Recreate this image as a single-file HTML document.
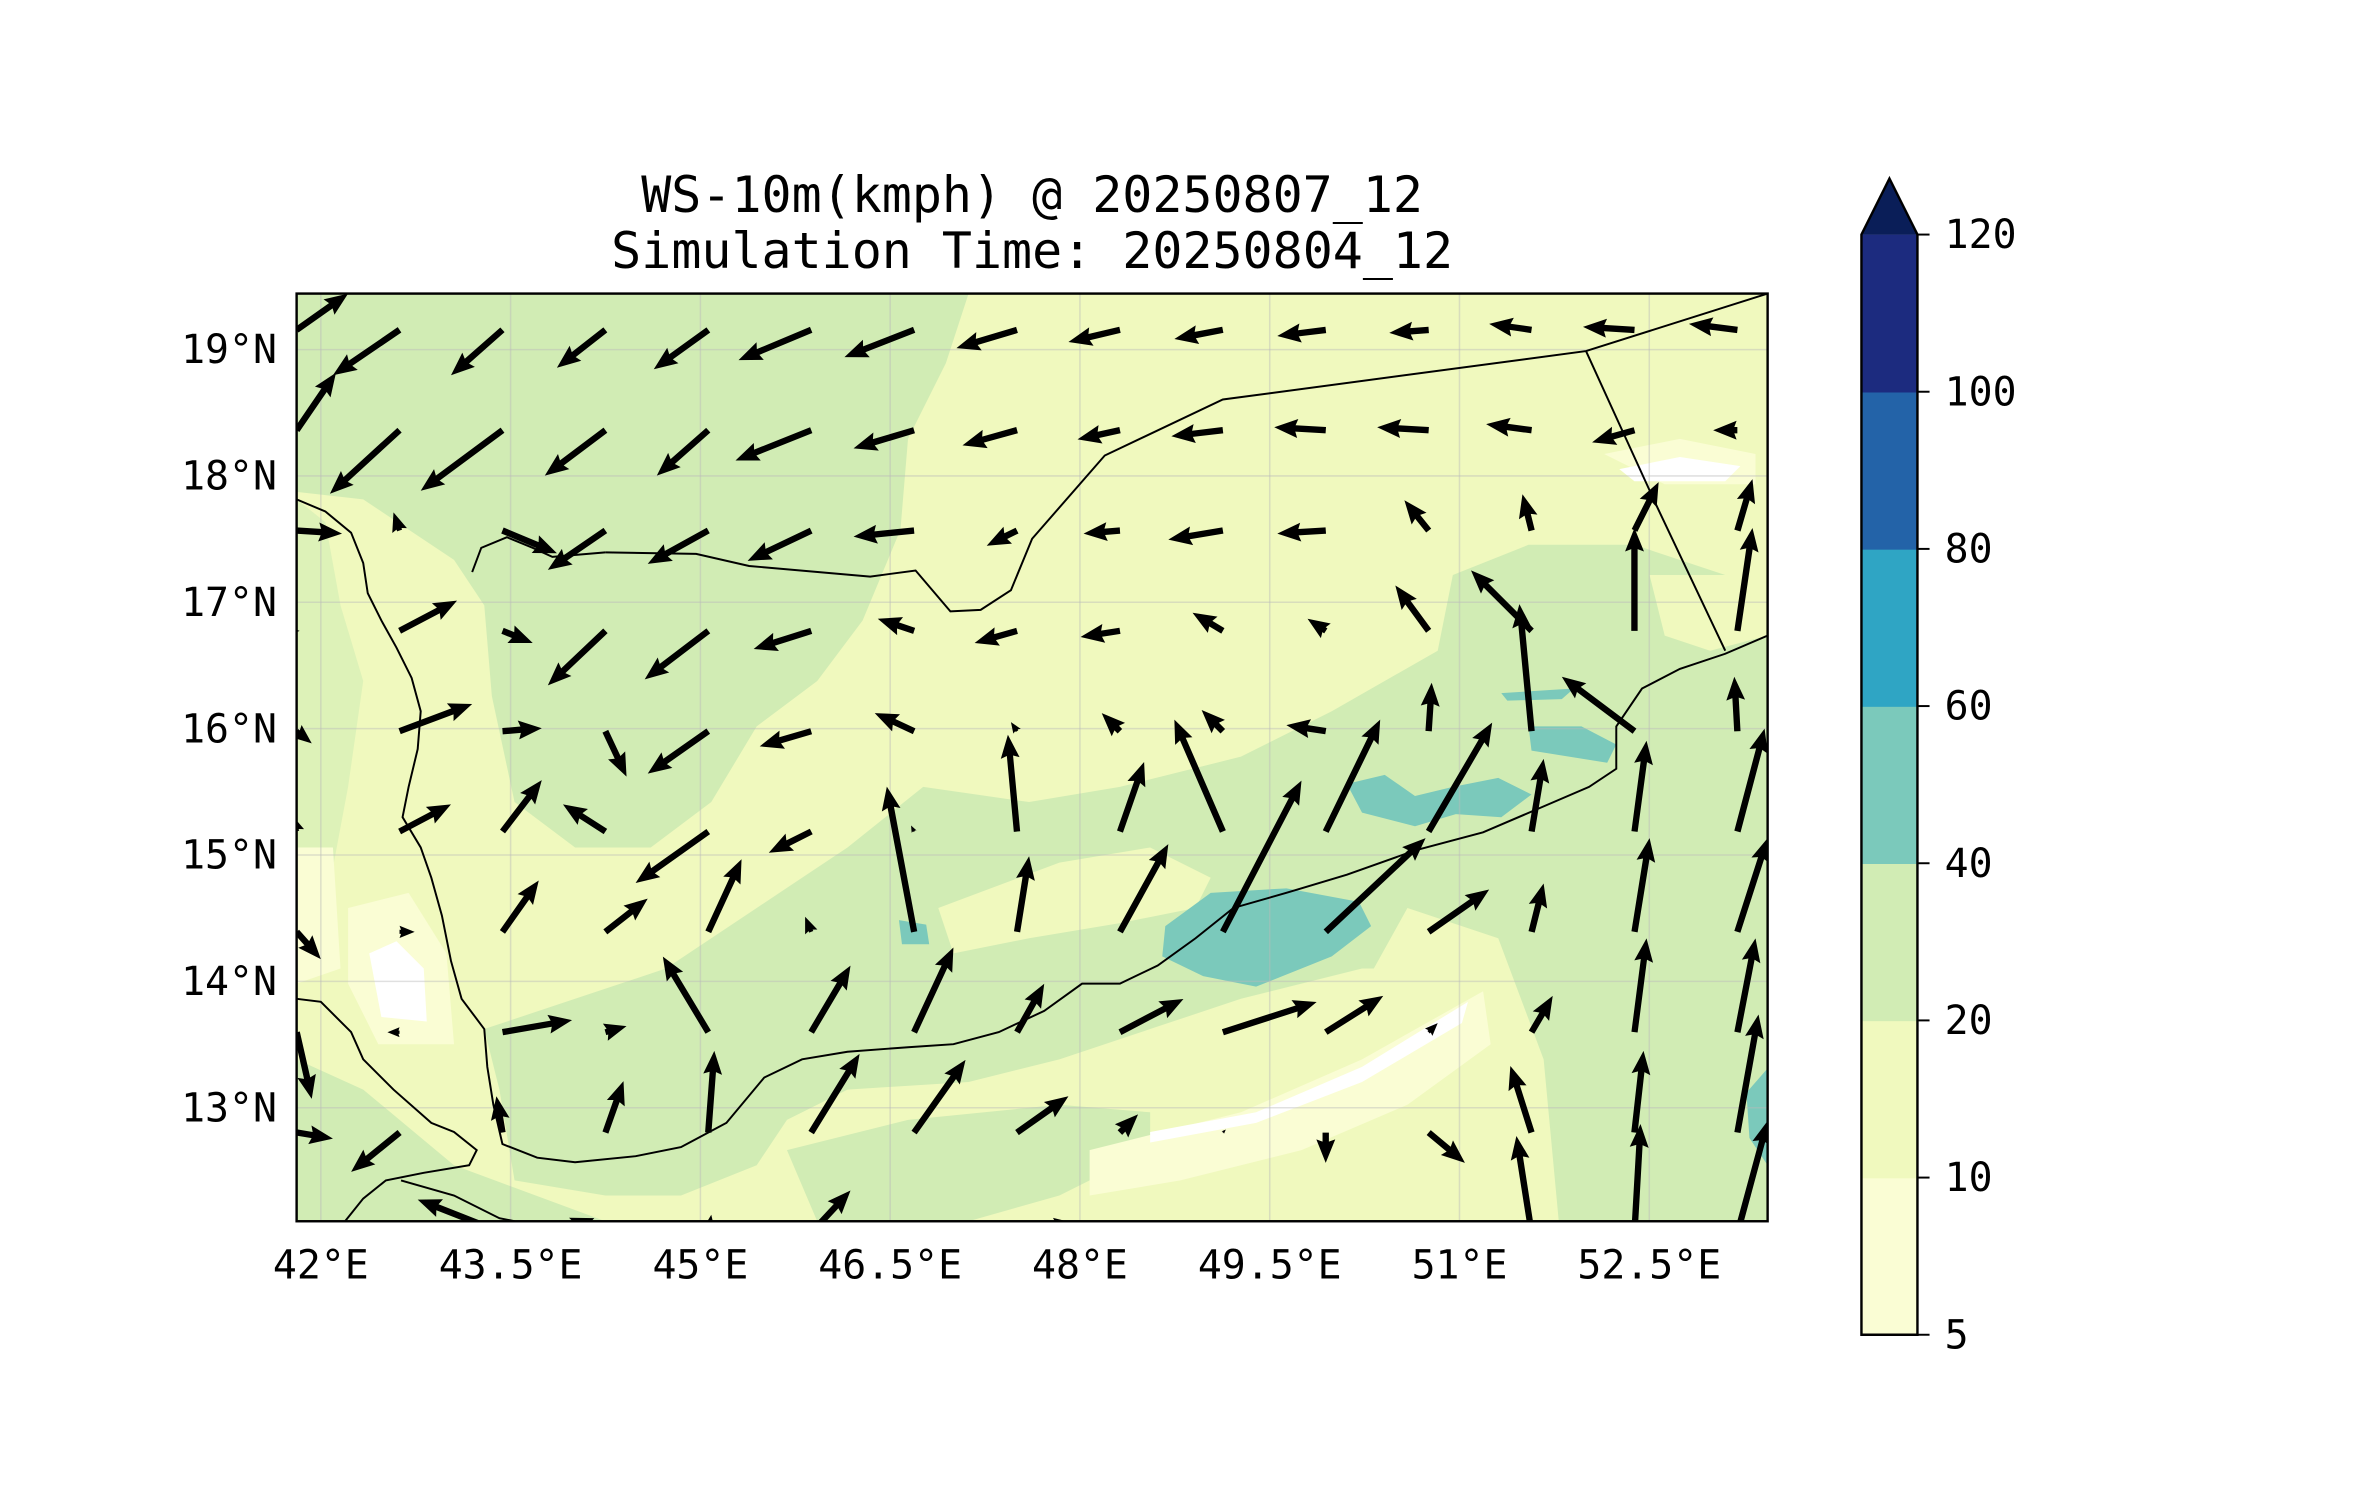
<!DOCTYPE html>
<html><head><meta charset="utf-8"><style>
html,body{margin:0;padding:0;background:#fff;}
svg{display:block;}
text{font-family:"DejaVu Sans Mono","Liberation Mono",monospace;fill:#000;}
</style></head><body>
<svg id="chart" width="2371" height="1500" viewBox="0 0 1566.7 991.2" preserveAspectRatio="none" xmlns="http://www.w3.org/2000/svg">
<defs><clipPath id="mapclip"><rect x="196" y="194" width="972" height="613"/></clipPath></defs>
<rect width="1600" height="1000" fill="#fff"/>
<text x="682" y="140" font-size="33" text-anchor="middle">WS-10m(kmph) @ 20250807_12</text>
<text x="682" y="177" font-size="33" text-anchor="middle">Simulation Time: 20250804_12</text>
<g id="map" clip-path="url(#mapclip)">
 <rect x="196" y="194" width="972" height="613" fill="#f0f9be"/>
 <g fill="#d1ecb4">
  <path d="M196,194 L640,194 L625,240 L600,290 L595,350 L570,410 L540,450 L500,480 L470,530 L430,560 L380,560 L340,530 L325,460 L320,400 L300,370 L270,350 L240,330 L196,325 Z"/>
  <path d="M196,330 L215,345 L225,400 L240,450 L230,520 L215,600 L196,610 Z" opacity="0.6"/>
  <path d="M560,560 L610,520 L680,530 L740,520 L820,500 L880,470 L950,430 L960,380 L1010,360 L1080,360 L1140,380 L1168,400 L1168,807 L1000,807 L1000,760 L980,680 L960,640 L900,640 L820,660 L760,680 L700,700 L640,715 L560,720 L520,740 L500,770 L450,790 L400,790 L340,780 L330,720 L320,680 L380,660 L440,640 L500,600 Z"/>
  <path d="M196,700 L240,720 L300,770 L400,807 L196,807 Z"/>
  <path d="M520,760 L600,740 L700,730 L760,735 L760,760 L700,790 L640,807 L540,807 Z"/>
 </g>
 <g fill="#f0f9be">
  <path d="M620,600 L700,570 L760,560 L800,580 L790,600 L740,610 L680,620 L630,630 Z"/>
  <path d="M930,600 L990,620 L1020,700 L1030,807 L940,807 L930,740 L900,700 L880,690 Z"/>
  <path d="M1090,380 L1168,380 L1168,420 L1130,430 L1100,420 Z"/>
 </g>
 <g fill="#fafdd4">
  <path d="M230,600 L270,590 L295,630 L300,690 L250,690 L230,650 Z"/>
  <path d="M720,760 L820,735 L900,700 L980,655 L985,690 L930,730 L860,760 L780,780 L720,790 Z"/>
  <path d="M1060,300 L1110,290 L1160,300 L1160,320 L1100,320 Z"/>
  <path d="M196,560 L220,560 L225,640 L196,650 Z"/>
 </g>
 <g fill="#ffffff">
  <path d="M244,630 L262,622 L280,640 L282,675 L252,672 Z"/>
  <path d="M760,748 L830,735 L900,705 L970,662 L966,676 L900,715 L830,742 L760,755 Z"/>
  <path d="M1070,310 L1110,302 L1150,308 L1140,318 L1080,318 Z"/>
 </g>
 <g fill="#7bc9bb">
  <path d="M770,612 L800,590 L850,587 L898,596 L906,612 L880,632 L830,652 L795,645 L768,632 Z"/>
  <path d="M890,518 L915,512 L935,526 L960,520 L990,514 L1012,525 L992,540 L962,538 L935,546 L900,537 Z"/>
  <path d="M1010,480 L1045,480 L1068,492 L1062,504 L1012,496 Z"/>
  <path d="M594,608 L612,611 L614,624 L596,624 Z"/>
  <path d="M992,458 L1040,455 L1032,462 L996,463 Z"/>
  <path d="M1154,722 L1168,706 L1168,770 L1156,752 Z"/>
 </g>
 <g id="grid" stroke="#bbb" stroke-opacity="0.45" stroke-width="1"></g>
 <g fill="none" stroke="#000" stroke-width="1.3">
  <path d="M196,330 L215,338 L232,352 L240,372 L243,392 L252,410 L262,428 L272,448 L278,470 L276,495 L270,520 L266,540 L278,560 L285,580 L292,605 L298,635 L305,660 L320,680 L322,705 L326,730 L332,756 L355,765 L380,768 L420,764 L450,758 L480,742 L505,712 L530,700 L560,695 L600,692 L630,690 L660,682 L690,668 L715,650 L740,650 L765,638 L790,620 L815,600 L850,590 L890,578 L935,562 L980,550 L1015,535 L1050,520 L1068,508 L1068,480 L1085,455 L1110,442 L1140,432 L1168,420"/>
  <path d="M312,378 L318,362 L335,355 L352,362 L365,368 L400,365"/>
  <path d="M196,660 L212,662 L232,682 L240,700 L260,720 L285,742 L300,748 L315,760 L310,770 L280,775 L255,780 L240,792 L228,807"/>
  <path d="M400,365 L460,366 L495,374 L575,381 L605,377 L628,404 L648,403 L668,390 L682,356 L730,301 L808,264 L1048,232 L1168,194"/>
  <path d="M1048,232 L1095,335 L1140,430"/>
  <path d="M265,780 L300,790 L330,805 L340,807"/>
 </g>
 <g id="arrows" fill="#000"></g>
</g>
<rect x="196" y="194" width="972" height="613" fill="none" stroke="#000" stroke-width="1.6"/>
<g id="ticks" font-size="26.3"></g>
<g id="cbar"></g>
</svg>
<script>
// Wind vector components (east u, north v), in quiver display units
const uWind = [
 [34,-44,-34,-32,-36,-48,-46,-40,-34,-32,-32,-26,-28,-34,-32],
 [26,-46,-54,-40,-34,-50,-40,-36,-28,-34,-34,-34,-30,-28,-16],
 [30,-4,36,-38,-40,-42,-40,-20,-24,-36,-32,-16,-6,16,10],
 [2,38,20,-38,-42,-38,-24,-28,-26,-20,-12,-22,-40,0,10],
 [10,48,26,14,-40,-34,-26,-4,-12,-14,-26,2,-8,-48,-2],
 [-4,34,26,-28,-48,-28,-2,-6,16,-32,36,42,8,8,18],
 [16,10,24,28,22,-4,-18,8,32,52,66,40,8,10,20],
 [10,-8,46,14,-30,26,26,18,42,62,38,6,14,8,12],
 [24,-32,-4,12,4,32,34,34,12,2,0,24,-14,6,14],
 [4,32,-56,-24,2,26,22,40,-2,0,0,0,-10,4,20]
];
const vWind = [
 [24,-30,-30,-25,-26,-20,-18,-12,-8,-6,-4,-2,4,2,4],
 [38,-42,-40,-30,-30,-20,-12,-10,-6,-4,2,2,4,-8,0],
 [-2,12,-15,-26,-22,-20,-4,-10,-2,-6,-2,20,24,32,34],
 [0,20,-8,-36,-32,-12,8,-8,-4,12,8,30,40,68,68],
 [-8,18,2,-30,-28,-10,12,6,12,14,4,32,84,36,36],
 [12,18,34,18,-34,-14,4,64,46,74,74,72,48,60,68],
 [-18,0,34,22,48,10,96,50,58,100,62,28,32,62,62],
 [-44,0,8,4,50,44,56,32,22,20,24,6,24,62,62],
 [-4,-26,24,34,54,52,48,24,12,2,-20,-20,44,54,78],
 [0,2,22,10,12,28,6,6,4,0,0,0,64,72,74]
];
const lonTicks = [42,43.5,45,46.5,48,49.5,51,52.5];
const latTicks = [13,14,15,16,17,18,19];
const cbarLevels = [5,10,20,40,60,80,100,120];
const cbarColors = ["#fafdd4","#f0f9be","#d1ecb4","#7bc9bb","#2fa5c4","#2363a8","#1c2b7f"];
const cbarExtendColor = "#0a1e58";

const NS="http://www.w3.org/2000/svg";
const xLon = lon => 212 + (lon-42)*83.6;
const yLat = lat => 231 + (19-lat)*83.5;
const gridLon0 = 41.809, gridDLon = 0.8134, gridLat0 = 19.156, gridDLat = 0.794;
const qScale = 1;

const grid=document.getElementById('grid');
lonTicks.forEach(l=>{const e=document.createElementNS(NS,'line');
 
 
 e.setAttribute('x1',xLon(l));e.setAttribute('x2',xLon(l));e.setAttribute('y1',194);e.setAttribute('y2',807);grid.appendChild(e);});
latTicks.forEach(l=>{const e=document.createElementNS(NS,'line');
 
 
 e.setAttribute('y1',yLat(l));e.setAttribute('y2',yLat(l));e.setAttribute('x1',196);e.setAttribute('x2',1168);grid.appendChild(e);});

const ticks=document.getElementById('ticks');
lonTicks.forEach(l=>{const t=document.createElementNS(NS,'text');
 
 
 t.setAttribute('x',xLon(l));t.setAttribute('y',845);t.setAttribute('text-anchor','middle');
 t.textContent=(Number.isInteger(l)?l:l.toFixed(1))+'°E';ticks.appendChild(t);});
latTicks.forEach(l=>{const t=document.createElementNS(NS,'text');
 
 
 t.setAttribute('x',183);t.setAttribute('y',yLat(l)+9);t.setAttribute('text-anchor','end');
 t.textContent=l+'°N';ticks.appendChild(t);});

const arrows=document.getElementById('arrows');
const sw=4.2, hw=12.5, hl=15.5, hal=14;
for(let j=0;j<uWind.length;j++){for(let i=0;i<uWind[j].length;i++){
 const x0=xLon(gridLon0+i*gridDLon), y0=yLat(gridLat0-j*gridDLat);
 const dx=uWind[j][i]*qScale, dy=-vWind[j][i]*qScale;
 const L=Math.hypot(dx,dy); if(L<0.5) continue;
 const ux=dx/L, uy=dy/L, nx=-uy, ny=ux;
 const s=Math.min(1,L/hl);
 const a=sw/2*s, h=hw/2*s, HL=hl*s, HAL=hal*s;
 const P=(t,n)=>(x0+ux*t+nx*n).toFixed(1)+','+(y0+uy*t+ny*n).toFixed(1);
 const pts=[P(0,a),P(L-HAL,a),P(L-HL,h),P(L,0),P(L-HL,-h),P(L-HAL,-a),P(0,-a)].join(' ');
 const p=document.createElementNS(NS,'polygon');
 
 
 p.setAttribute('points',pts);arrows.appendChild(p);
}}

const cb=document.getElementById('cbar');
const cbX=1230, cbW=37, cbTop=155, cbBot=882;
const step=(cbBot-cbTop)/(cbarLevels.length-1);
cbarColors.forEach((c,k)=>{const r=document.createElementNS(NS,'rect');
 
 
 r.setAttribute('x',cbX);r.setAttribute('y',cbBot-(k+1)*step);r.setAttribute('width',cbW);r.setAttribute('height',step+0.5);r.setAttribute('fill',c);cb.appendChild(r);});
const tri=document.createElementNS(NS,'polygon');


tri.setAttribute('points',`${cbX},${cbTop} ${cbX+cbW/2},118 ${cbX+cbW},${cbTop}`);tri.setAttribute('fill',cbarExtendColor);cb.appendChild(tri);
const ol=document.createElementNS(NS,'polygon');


ol.setAttribute('points',`${cbX},${cbBot} ${cbX},${cbTop} ${cbX+cbW/2},118 ${cbX+cbW},${cbTop} ${cbX+cbW},${cbBot}`);
ol.setAttribute('fill','none');ol.setAttribute('stroke','#000');ol.setAttribute('stroke-width','1.6');cb.appendChild(ol);
cbarLevels.forEach((v,k)=>{const y=cbBot-k*step;
 const l=document.createElementNS(NS,'line');
 
 
 l.setAttribute('x1',cbX+cbW);l.setAttribute('x2',cbX+cbW+8);l.setAttribute('y1',y);l.setAttribute('y2',y);l.setAttribute('stroke','#000');l.setAttribute('stroke-width','1.3');cb.appendChild(l);
 const t=document.createElementNS(NS,'text');
 
 
 t.setAttribute('x',1285);t.setAttribute('y',y+9);t.setAttribute('font-size','26.3');t.textContent=v;cb.appendChild(t);});
</script>
</body></html>
